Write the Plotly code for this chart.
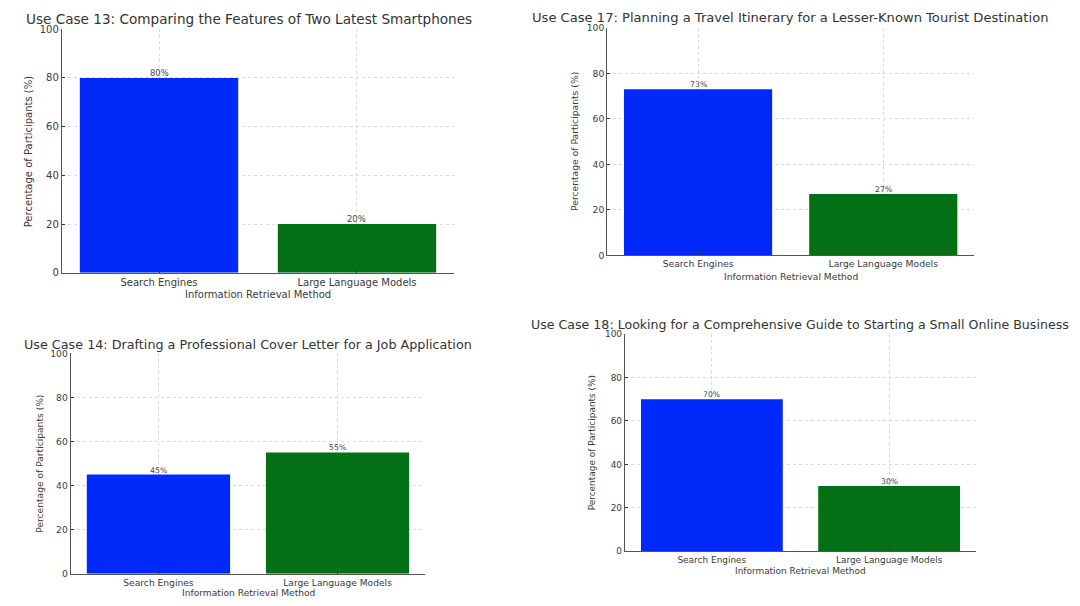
import plotly.graph_objects as go

# ---- data ----
categories = ["Search Engines", "Large Language Models"]
titles = [
    "Use Case 13: Comparing the Features of Two Latest Smartphones",
    "Use Case 17: Planning a Travel Itinerary for a Lesser-Known Tourist Destination",
    "Use Case 14: Drafting a Professional Cover Letter for a Job Application",
    "Use Case 18: Looking for a Comprehensive Guide to Starting a Small Online Business",
]
case13 = [80, 20]
case17 = [73, 27]
case14 = [45, 55]
case18 = [70, 30]
values = [case13, case17, case14, case18]
y_ticks = [0, 20, 40, 60, 80, 100]
x_title = "Information Retrieval Method"
y_title = "Percentage of Participants (%)"

# ---- layout (pixel boxes: left, right, bottom(y=0), top(y=100)) ----
W, H = 1080, 606
OFF = 8.0  # page body margin compensation
boxes = [
    (62.0, 454.0, 272.7, 29.3),
    (607.3, 974.0, 255.3, 28.0),
    (70.7, 425.3, 573.7, 353.3),
    (625.0, 976.0, 551.3, 334.0),
]
# font sizes per panel (title, axis text, value labels)
fonts = [(13.6, 10.0, 8.4), (13.1, 9.2, 7.8), (12.75, 9.15, 7.8), (12.6, 8.95, 7.7)]
title_pos = [(249.0, 19.0), (790.4, 18.0), (247.5, 344.3), (800.0, 324.7)]
ytitle_x = [28.3, 574.3, 39.3, 591.7]
xtitle_gap = [21.5, 20.7, 19.0, 19.7]

bar_colors = ["#0029fa", "#037015"]
FONT = "DejaVu Sans"
TXT = "#3a3a3a"


def px(x):
    return (x - OFF) / W


def py(y):
    return 1 - (y - OFF) / H


fig = go.Figure()
annotations = []
for i in range(4):
    l, r, b, t = boxes[i]
    tf, af, vf = fonts[i]
    xa = "xaxis" if i == 0 else f"xaxis{i+1}"
    ya = "yaxis" if i == 0 else f"yaxis{i+1}"
    xr = "x" if i == 0 else f"x{i+1}"
    yr = "y" if i == 0 else f"y{i+1}"
    fig.add_trace(go.Bar(
        x=categories, y=values[i], width=0.8,
        marker=dict(color=bar_colors, line=dict(width=0)),
        xaxis=xr, yaxis=yr, showlegend=False,
    ))
    for cat, v in zip(categories, values[i]):
        annotations.append(dict(text=f"{v}%", x=cat, y=v, xref=xr, yref=yr,
                                xanchor="center", yanchor="bottom", showarrow=False,
                                borderpad=0, yshift=-1,
                                font=dict(family=FONT, size=vf, color="#444")))
    fig.update_layout(**{
        xa: dict(domain=[px(l), px(r)], anchor=yr, type="category", automargin=False,
                 range=[-0.49, 1.49], showgrid=True, gridcolor="#dadada",
                 griddash="dot", gridwidth=1, showline=True, linecolor="#555",
                 linewidth=1.3, ticks="inside", ticklen=3, tickcolor="#333",
                 tickfont=dict(family=FONT, size=af, color=TXT), zeroline=False),
        ya: dict(domain=[py(b), py(t)], anchor=xr, range=[0, 100], automargin=False,
                 tickvals=y_ticks, showgrid=True, gridcolor="#dadada",
                 griddash="dot", gridwidth=1, showline=True, linecolor="#555",
                 linewidth=1.3, ticks="inside", ticklen=3, tickcolor="#333",
                 tickfont=dict(family=FONT, size=af, color=TXT), zeroline=False),
    })
    annotations.append(dict(text=titles[i], x=px(title_pos[i][0]), y=py(title_pos[i][1]),
                            xref="paper", yref="paper", xanchor="center", yanchor="middle",
                            showarrow=False, font=dict(family=FONT, size=tf, color="#333")))
    annotations.append(dict(text=x_title, x=px((l + r) / 2), y=py(b + xtitle_gap[i]),
                            xref="paper", yref="paper", xanchor="center", yanchor="middle",
                            showarrow=False, font=dict(family=FONT, size=af, color=TXT)))
    annotations.append(dict(text=y_title, x=px(ytitle_x[i]), y=py((b + t) / 2),
                            xref="paper", yref="paper", xanchor="center", yanchor="middle",
                            textangle=-90, showarrow=False,
                            font=dict(family=FONT, size=af, color=TXT)))

fig.update_layout(width=W, height=H, margin=dict(l=0, r=0, t=0, b=0, autoexpand=False),
                  paper_bgcolor="white", plot_bgcolor="white",
                  annotations=annotations, bargap=0.2)
fig.write_html("out.html")
